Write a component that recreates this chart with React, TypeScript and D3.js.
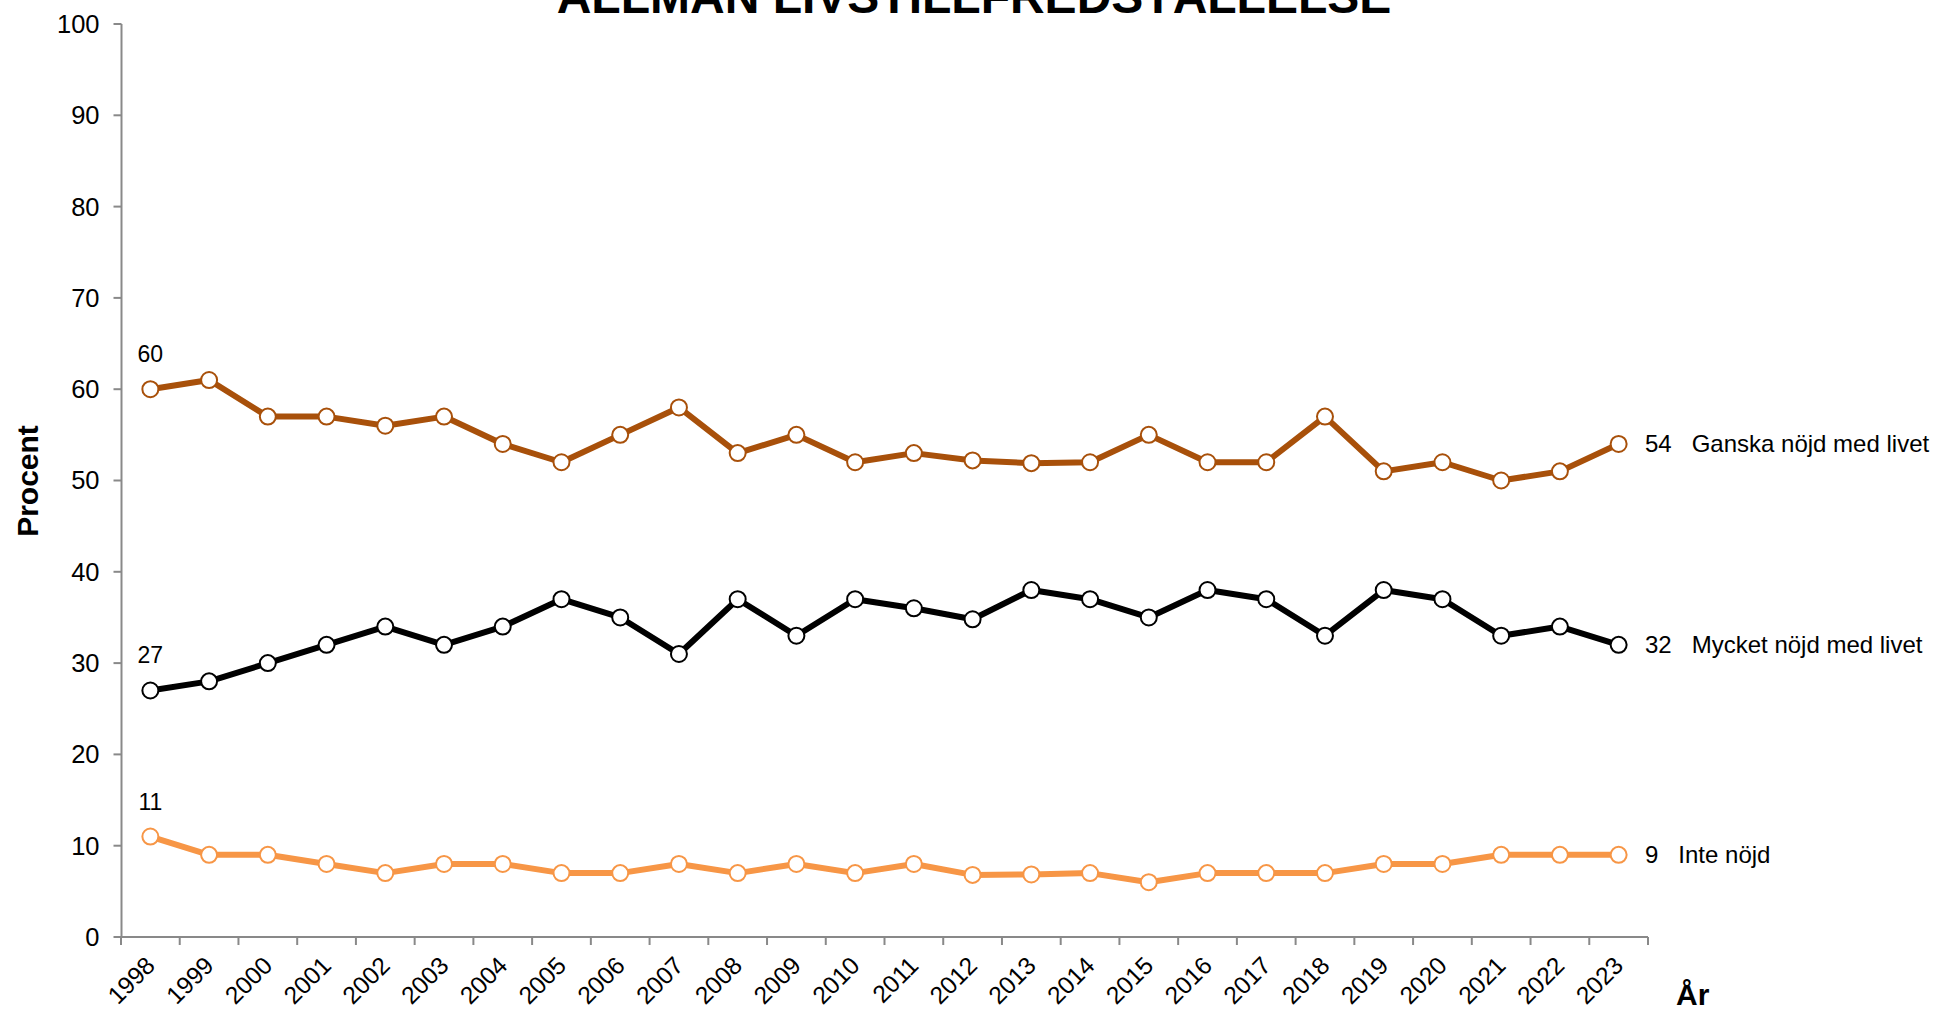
import React, { useEffect, useRef } from 'react';
import * as d3 from 'd3';

// Data
const years = ['1998', '1999', '2000', '2001', '2002', '2003', '2004', '2005', '2006', '2007', '2008', '2009', '2010',
  '2011', '2012', '2013', '2014', '2015', '2016', '2017', '2018', '2019', '2020', '2021', '2022', '2023'];
const ganska = [60, 61, 57, 57, 56, 57, 54, 52, 55, 58, 53, 55, 52, 53, 52.2, 51.9, 52, 55, 52, 52, 57, 51, 52, 50, 51, 54];
const mycket = [27, 28, 30, 32, 34, 32, 34, 37, 35, 31, 37, 33, 37, 36, 34.8, 38, 37, 35, 38, 37, 33, 38, 37, 33, 34, 32];
const inte = [11, 9, 9, 8, 7, 8, 8, 7, 7, 8, 7, 8, 7, 8, 6.8, 6.85, 7, 6, 7, 7, 7, 8, 8, 9, 9, 9];
const seriesNames = ['Mycket nöjd med livet', 'Ganska nöjd med livet', 'Inte nöjd'];
const yTicks = [0, 10, 20, 30, 40, 50, 60, 70, 80, 90, 100];

const App = () => {
  const chartRef = useRef<SVGSVGElement>(null);

  useEffect(() => {
    const width = 1934;
    const height = 1011;
    const font = 'Liberation Sans, Arial, sans-serif';
    const axisColor = '#898989';

    const svg = d3.select(chartRef.current);
    svg.selectAll('*').remove();
    svg.attr('width', width).attr('height', height);

    const x = d3.scaleBand().domain(years).range([121, 1648]).padding(0);
    const y = d3.scaleLinear().domain([0, 100]).range([937, 24]);
    const cx = (yr: string) => (x(yr) as number) + x.bandwidth() / 2;

    // Title (partly cut off at the top)
    svg.append('text')
      .attr('x', 974)
      .attr('y', 13)
      .attr('text-anchor', 'middle')
      .attr('font-family', font)
      .attr('font-weight', 'bold')
      .attr('font-size', '48px')
      .attr('fill', '#000')
      .text('ALLMÄN LIVSTILLFREDSTÄLLELSE');

    // Y axis
    const yAxis = svg.append('g').attr('transform', 'translate(121.5,0)');
    yAxis.append('line')
      .attr('y1', y(100)).attr('y2', y(0))
      .attr('stroke', axisColor).attr('stroke-width', 2);
    yTicks.forEach(t => {
      yAxis.append('line')
        .attr('x1', -8).attr('x2', 0)
        .attr('y1', y(t)).attr('y2', y(t))
        .attr('stroke', axisColor).attr('stroke-width', 2);
      yAxis.append('text')
        .attr('x', -22)
        .attr('y', y(t))
        .attr('dy', '0.35em')
        .attr('text-anchor', 'end')
        .attr('font-family', font)
        .attr('font-size', '25.5px')
        .attr('fill', '#000')
        .text(t);
    });

    // X axis
    const xAxis = svg.append('g');
    xAxis.append('line')
      .attr('x1', 121).attr('x2', 1648)
      .attr('y1', y(0)).attr('y2', y(0))
      .attr('stroke', axisColor).attr('stroke-width', 2);
    const bounds = years.map(yr => x(yr) as number).concat([1648]);
    bounds.forEach(b => {
      xAxis.append('line')
        .attr('x1', b).attr('x2', b)
        .attr('y1', y(0)).attr('y2', y(0) + 8)
        .attr('stroke', axisColor).attr('stroke-width', 2);
    });
    years.forEach(yr => {
      xAxis.append('text')
        .attr('transform', `translate(${cx(yr)},961) rotate(-45)`)
        .attr('dy', '0.35em')
        .attr('text-anchor', 'end')
        .attr('font-family', font)
        .attr('font-size', '24.5px')
        .attr('fill', '#000')
        .text(yr);
    });

    // Axis titles
    svg.append('text')
      .attr('transform', 'translate(38,481) rotate(-90)')
      .attr('text-anchor', 'middle')
      .attr('font-family', font)
      .attr('font-weight', 'bold')
      .attr('font-size', '30px')
      .attr('fill', '#000')
      .text('Procent');

    svg.append('text')
      .attr('x', 1676)
      .attr('y', 1005)
      .attr('font-family', font)
      .attr('font-weight', 'bold')
      .attr('font-size', '30px')
      .attr('fill', '#000')
      .text('År');

    // Series
    const series = [
      { name: seriesNames[0], values: mycket, color: '#000000' },
      { name: seriesNames[1], values: ganska, color: '#A8500A' },
      { name: seriesNames[2], values: inte, color: '#F79646' }
    ];

    const line = d3.line<number>()
      .x((d, i) => cx(years[i]))
      .y(d => y(d));

    series.forEach(s => {
      svg.append('path')
        .datum(s.values)
        .attr('d', line)
        .attr('fill', 'none')
        .attr('stroke', s.color)
        .attr('stroke-width', 6)
        .attr('stroke-linejoin', 'round');

      svg.selectAll(null)
        .data(s.values)
        .enter()
        .append('circle')
        .attr('cx', (d, i) => cx(years[i]))
        .attr('cy', d => y(d))
        .attr('r', 8)
        .attr('fill', '#fff')
        .attr('stroke', s.color)
        .attr('stroke-width', 2);

      // first value label
      svg.append('text')
        .attr('x', cx(years[0]))
        .attr('y', y(s.values[0]) - 27)
        .attr('text-anchor', 'middle')
        .attr('font-family', font)
        .attr('font-size', '23px')
        .attr('fill', '#000')
        .text(s.values[0]);

      // last value + series name
      const last = s.values[s.values.length - 1];
      svg.append('text')
        .attr('x', 1645)
        .attr('y', y(last))
        .attr('dy', '0.35em')
        .attr('font-family', font)
        .attr('font-size', '24px')
        .attr('fill', '#000')
        .text(`${last}\u00A0\u00A0\u00A0${s.name}`);
    });
  }, []);

  return (
    <div style={{ position: 'absolute', left: 0, top: 0 }}>
      <svg ref={chartRef} style={{ display: 'block', background: '#fff' }}></svg>
    </div>
  );
};

export default App;
